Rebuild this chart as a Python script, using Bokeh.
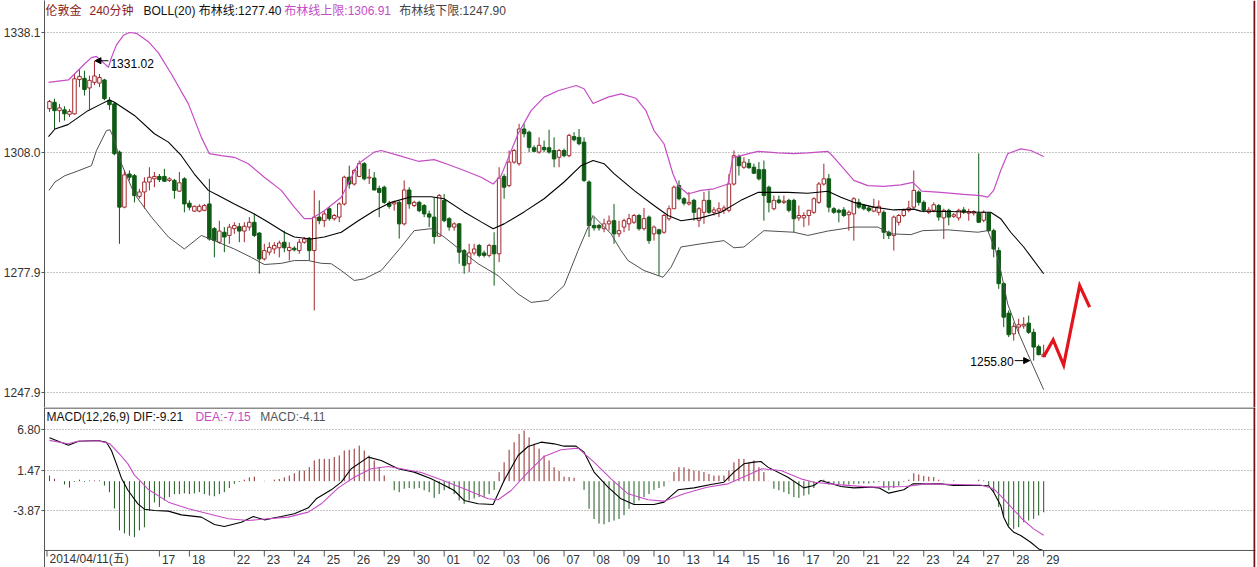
from bokeh.plotting import figure
from bokeh.layouts import column
from bokeh.models import Range1d, FixedTicker, PrintfTickFormatter, Span, Arrow, NormalHead, ColumnDataSource
from bokeh.core.properties import value
from bokeh.embed import file_html
from bokeh.resources import INLINE

# ---------------- data (240-minute London gold bars) ----------------
opens = [
    1319.0, 1320.6, 1318.5, 1318.7, 1317.6, 1317.7, 1326.3, 1326.6, 1324.2, 1325.6,
    1325.4, 1326.2, 1321.1, 1320.2, 1308.1, 1294.3, 1302.6, 1302.2, 1297.0, 1298.1,
    1300.6, 1301.4, 1302.0, 1302.0, 1301.0, 1301.0, 1298.3, 1301.4, 1295.3, 1293.3,
    1293.3, 1293.5, 1295.1, 1288.9, 1285.5, 1288.0, 1287.2, 1288.9, 1289.4, 1288.3,
    1289.3, 1290.5, 1287.8, 1281.3, 1283.0, 1283.8, 1284.1, 1285.5, 1283.4, 1284.0,
    1283.4, 1285.5, 1286.5, 1283.4, 1291.8, 1290.9, 1293.9, 1291.4, 1291.8, 1295.1,
    1301.8, 1300.1, 1302.0, 1305.2, 1301.6, 1301.6, 1299.0, 1299.3, 1295.3, 1295.1,
    1295.5, 1290.1, 1298.6, 1294.7, 1295.5, 1294.7, 1292.6, 1291.8, 1287.0, 1296.0,
    1291.4, 1289.3, 1290.1, 1283.4, 1280.1, 1282.8, 1284.7, 1282.8, 1282.2, 1284.7,
    1282.6, 1302.0, 1299.7, 1305.6, 1305.2, 1313.9, 1313.1, 1309.2, 1308.1, 1309.3,
    1309.2, 1308.5, 1306.8, 1308.5, 1307.2, 1312.0, 1311.8, 1310.6, 1300.6, 1289.7,
    1289.7, 1288.9, 1290.1, 1290.9, 1287.6, 1289.3, 1290.1, 1290.5, 1292.2, 1288.9,
    1291.8, 1287.6, 1288.6, 1288.0, 1291.4, 1293.9, 1299.7, 1296.4, 1295.1, 1296.0,
    1291.0, 1293.0, 1296.0, 1293.0, 1293.3, 1293.5, 1293.5, 1300.1, 1307.0, 1304.3,
    1305.3, 1304.3, 1303.7, 1303.7, 1299.3, 1293.9, 1296.1, 1295.5, 1296.0, 1296.0,
    1291.6, 1291.6, 1292.2, 1293.0, 1295.5, 1300.1, 1301.4, 1293.9, 1293.5, 1293.6,
    1292.4, 1292.6, 1295.5, 1294.7, 1294.1, 1293.3, 1293.0, 1293.0, 1288.0, 1287.2,
    1290.5, 1292.2, 1293.5, 1294.3, 1298.1, 1295.5, 1293.0, 1293.5, 1294.7, 1291.6,
    1293.5, 1292.0, 1291.6, 1293.6, 1292.8, 1292.8, 1292.8, 1291.0, 1292.8, 1288.4,
    1283.4, 1275.1, 1267.7, 1262.5, 1264.2, 1264.5, 1265.2, 1262.9, 1259.3, 1256.8,
]
highs = [
    1321.2, 1321.5, 1320.2, 1319.6, 1318.9, 1327.7, 1328.8, 1328.5, 1327.3, 1331.02,
    1327.7, 1326.5, 1321.9, 1320.6, 1308.5, 1303.5, 1303.5, 1302.6, 1298.9, 1301.8,
    1304.3, 1303.1, 1302.6, 1303.9, 1301.8, 1301.4, 1303.1, 1301.8, 1296.0, 1294.7,
    1295.0, 1295.1, 1301.4, 1289.3, 1290.9, 1289.3, 1290.1, 1290.5, 1290.3, 1290.5,
    1291.8, 1292.6, 1288.0, 1285.1, 1285.5, 1285.5, 1285.9, 1288.4, 1285.5, 1284.5,
    1286.3, 1286.8, 1286.8, 1298.5, 1296.0, 1293.5, 1294.3, 1292.6, 1295.5, 1302.2,
    1304.7, 1303.9, 1306.0, 1305.6, 1303.9, 1303.1, 1299.7, 1299.7, 1295.9, 1295.9,
    1295.9, 1301.0, 1299.3, 1295.9, 1295.9, 1295.1, 1293.4, 1296.8, 1297.6, 1297.6,
    1291.8, 1290.5, 1290.3, 1283.8, 1285.1, 1285.1, 1285.1, 1283.4, 1285.1, 1288.0,
    1304.3, 1302.6, 1308.5, 1308.9, 1315.2, 1315.2, 1313.5, 1309.8, 1311.8, 1311.0,
    1313.7, 1311.8, 1308.9, 1309.0, 1312.7, 1313.1, 1313.9, 1311.8, 1301.0, 1291.8,
    1290.1, 1291.4, 1292.2, 1295.1, 1290.9, 1291.4, 1292.6, 1292.6, 1292.6, 1294.1,
    1292.2, 1289.7, 1288.9, 1292.6, 1294.7, 1299.7, 1301.0, 1296.8, 1298.1, 1296.4,
    1294.3, 1298.1, 1298.5, 1294.3, 1295.5, 1294.7, 1302.6, 1308.5, 1307.5, 1306.8,
    1306.4, 1305.2, 1305.6, 1306.0, 1299.7, 1297.2, 1297.2, 1297.2, 1296.4, 1296.4,
    1294.7, 1293.0, 1293.6, 1296.8, 1300.6, 1305.2, 1302.6, 1294.3, 1293.9, 1294.3,
    1293.5, 1296.8, 1296.4, 1295.1, 1294.7, 1296.4, 1296.0, 1293.5, 1288.4, 1292.2,
    1292.6, 1293.9, 1295.9, 1303.5, 1298.5, 1296.0, 1294.3, 1295.5, 1295.1, 1293.9,
    1293.9, 1292.8, 1293.9, 1294.3, 1293.9, 1293.5, 1307.8, 1293.5, 1293.0, 1288.9,
    1284.2, 1275.5, 1268.4, 1265.4, 1266.3, 1266.7, 1267.1, 1263.8, 1259.8, 1259.8,
]
lows = [
    1318.2, 1313.9, 1315.6, 1316.0, 1316.9, 1317.5, 1324.4, 1322.3, 1318.8, 1324.9,
    1324.4, 1321.1, 1318.7, 1307.3, 1285.1, 1294.0, 1301.0, 1295.5, 1296.4, 1293.9,
    1298.5, 1299.3, 1300.6, 1300.6, 1300.6, 1296.4, 1298.1, 1293.0, 1293.5, 1293.1,
    1293.0, 1293.3, 1285.9, 1281.7, 1285.1, 1283.0, 1285.1, 1287.6, 1285.5, 1285.5,
    1288.4, 1286.8, 1277.6, 1280.9, 1282.2, 1282.6, 1281.7, 1283.0, 1280.9, 1283.2,
    1282.6, 1285.1, 1280.9, 1268.4, 1290.0, 1289.3, 1290.9, 1290.9, 1290.5, 1294.7,
    1298.9, 1299.7, 1301.8, 1301.0, 1300.1, 1298.5, 1291.8, 1295.1, 1293.9, 1293.4,
    1286.4, 1289.7, 1293.9, 1294.3, 1293.0, 1291.8, 1289.3, 1285.1, 1286.8, 1290.5,
    1288.4, 1288.4, 1280.1, 1277.6, 1278.0, 1282.2, 1281.7, 1281.7, 1281.7, 1274.6,
    1280.5, 1296.4, 1299.3, 1305.2, 1304.7, 1311.8, 1308.1, 1308.1, 1307.7, 1308.1,
    1307.7, 1304.3, 1304.3, 1306.8, 1306.8, 1310.8, 1309.8, 1300.6, 1286.8, 1288.4,
    1288.4, 1288.0, 1288.4, 1285.1, 1286.8, 1288.0, 1288.4, 1290.1, 1288.4, 1288.4,
    1285.1, 1285.9, 1277.1, 1287.6, 1290.9, 1293.9, 1296.0, 1294.7, 1294.7, 1290.9,
    1289.3, 1290.1, 1292.6, 1292.2, 1291.8, 1292.6, 1293.0, 1299.7, 1302.2, 1303.9,
    1303.9, 1302.6, 1301.0, 1290.9, 1293.0, 1293.5, 1295.1, 1295.1, 1293.0, 1288.0,
    1290.9, 1289.3, 1289.7, 1292.6, 1295.1, 1299.7, 1293.0, 1292.6, 1290.5, 1291.8,
    1288.4, 1285.9, 1293.9, 1293.5, 1293.0, 1293.0, 1292.2, 1286.3, 1286.3, 1283.4,
    1289.7, 1291.8, 1293.0, 1293.9, 1294.7, 1293.0, 1292.6, 1293.0, 1290.9, 1286.3,
    1289.7, 1291.6, 1290.9, 1292.6, 1290.9, 1292.2, 1290.3, 1290.5, 1288.0, 1281.7,
    1273.8, 1264.2, 1261.7, 1260.8, 1262.5, 1263.8, 1262.5, 1255.8, 1257.1, 1256.6,
]
closes = [
    1320.8, 1318.5, 1319.2, 1317.7, 1318.3, 1326.5, 1327.1, 1323.8, 1326.1, 1327.2,
    1326.8, 1321.5, 1320.0, 1307.7, 1294.3, 1302.4, 1301.8, 1297.2, 1298.1, 1300.6,
    1301.8, 1302.0, 1301.2, 1300.8, 1301.4, 1298.5, 1300.4, 1295.1, 1294.3, 1294.5,
    1294.5, 1294.7, 1286.3, 1285.9, 1288.3, 1286.8, 1289.3, 1289.7, 1288.3, 1289.5,
    1290.5, 1287.2, 1281.3, 1283.4, 1284.2, 1284.7, 1285.3, 1284.1, 1284.2, 1283.6,
    1285.5, 1286.3, 1283.4, 1291.8, 1290.9, 1292.6, 1291.4, 1292.2, 1295.1, 1301.8,
    1300.1, 1303.5, 1305.2, 1301.4, 1301.8, 1298.6, 1298.0, 1295.5, 1294.5, 1295.5,
    1290.1, 1298.6, 1295.1, 1295.5, 1293.4, 1292.6, 1291.8, 1286.9, 1297.2, 1290.9,
    1289.3, 1290.1, 1283.0, 1279.7, 1282.8, 1283.8, 1282.2, 1282.2, 1284.7, 1282.6,
    1301.6, 1299.3, 1305.6, 1308.5, 1313.9, 1312.7, 1309.3, 1308.3, 1309.8, 1308.7,
    1308.1, 1306.4, 1308.5, 1307.2, 1312.3, 1311.2, 1310.2, 1301.0, 1289.7, 1289.1,
    1289.1, 1290.1, 1290.8, 1287.6, 1288.4, 1290.9, 1291.4, 1292.2, 1288.9, 1291.4,
    1285.9, 1289.3, 1287.6, 1292.2, 1293.9, 1299.3, 1296.4, 1295.3, 1295.5, 1293.0,
    1293.9, 1296.0, 1293.0, 1293.6, 1293.9, 1294.1, 1300.1, 1307.2, 1304.7, 1305.6,
    1304.2, 1302.8, 1301.4, 1297.2, 1295.5, 1296.0, 1295.5, 1295.8, 1293.5, 1291.4,
    1292.2, 1292.2, 1293.5, 1296.4, 1300.1, 1301.4, 1294.3, 1293.0, 1293.0, 1292.2,
    1293.0, 1296.4, 1294.3, 1293.9, 1293.5, 1294.3, 1294.5, 1288.0, 1287.2, 1291.8,
    1292.2, 1293.5, 1294.1, 1298.5, 1295.5, 1293.5, 1293.6, 1294.9, 1291.8, 1293.5,
    1291.8, 1292.4, 1293.5, 1293.0, 1293.2, 1293.2, 1290.5, 1293.0, 1288.4, 1283.8,
    1275.1, 1266.7, 1262.3, 1264.4, 1264.8, 1264.9, 1262.9, 1259.2, 1257.3, 1257.4,
]

# Bollinger(20) bands, read as polyline vertices (bar index, price)
upper_i = [-0.2, 3.8, 5, 7, 8.4, 9.4, 11, 11.8, 12.4, 13.4, 14.8, 16, 17.4, 19.8, 21.8, 24.4, 27.8, 30.4, 32, 34.4,
           37, 39.8, 43, 46.4, 49, 51, 52.4, 55, 58.4, 61.8, 65, 66.4, 69.8, 73.8, 77, 79.8, 83, 86.4, 88.8, 90.4,
           93.8, 96.4, 99, 101.8, 105.4, 107, 108.8, 111.8, 114.4, 117.4, 119.4, 121, 123, 124.8, 125.8, 127.8, 130.4, 133, 135.8, 136.8,
           138.4, 141.8, 145.8, 149, 151.8, 155.8, 157, 161, 163.8, 167, 170.4, 172.8, 174.6, 178.4, 183, 186.4, 187.8, 189, 190.4, 191.8,
           194.4, 196.4, 199]
upper_v = [1325.6, 1326.2, 1327.7, 1330.2, 1331.8, 1332.1, 1330.3, 1329.4, 1331.8, 1335.0, 1337.4, 1338.1, 1337.9, 1335.8, 1333.0, 1327.7, 1320.2, 1311.8, 1307.7, 1307.2,
           1306.8, 1305.2, 1301.8, 1298.5, 1294.3, 1291.4, 1291.4, 1293.4, 1296.8, 1305.2, 1308.1, 1308.5, 1307.3, 1305.8, 1306.2, 1305.0, 1303.5, 1301.8, 1300.1, 1302.2,
           1312.7, 1318.5, 1321.9, 1323.5, 1324.8, 1324.0, 1320.3, 1321.9, 1322.7, 1321.6, 1318.5, 1313.5, 1310.2, 1302.6, 1299.7, 1297.6, 1298.5, 1298.9, 1300.1, 1306.8,
           1307.2, 1308.3, 1307.9, 1307.7, 1307.9, 1308.3, 1306.8, 1301.0, 1299.7, 1299.5, 1299.9, 1300.5, 1298.3, 1298.0, 1297.5, 1297.2, 1296.8, 1298.5, 1303.5, 1307.7,
           1308.9, 1308.5, 1307.0]
mid_i = [-0.2, 1.1, 3.7, 7.7, 10.4, 12, 13, 17, 21, 23.8, 26.4, 29, 31.8, 33.8, 37, 41, 43.8, 47, 49, 52.4,
         55, 58.4, 61.8, 65, 68.4, 72.4, 76.4, 79, 83, 86.4, 88.8, 91, 95, 99, 103, 106.4, 108.8, 111, 113, 117,
         121, 123.8, 126.4, 130.4, 134.4, 138.4, 141.8, 147.8, 151.8, 155.8, 158.4, 161, 165, 169, 173, 174.4, 179.8, 186.4, 188.4, 190.4,
         192.4, 195, 199]
mid_v = [1312.0, 1313.9, 1315.0, 1318.5, 1320.2, 1321.2, 1320.6, 1317.3, 1312.7, 1310.6, 1307.2, 1302.6, 1298.5, 1297.2, 1295.1, 1292.6, 1290.5, 1288.0, 1286.8, 1286.3,
         1286.8, 1288.0, 1290.9, 1293.4, 1295.5, 1296.9, 1296.9, 1296.4, 1293.1, 1290.6, 1288.9, 1290.1, 1293.1, 1296.4, 1300.6, 1304.7, 1306.0, 1305.2, 1302.7, 1298.5,
         1294.7, 1292.2, 1290.9, 1291.6, 1293.0, 1296.0, 1298.0, 1298.0, 1297.8, 1298.3, 1296.8, 1295.5, 1294.3, 1293.6, 1293.8, 1293.3, 1293.2, 1293.0, 1293.0, 1291.4,
         1288.0, 1284.3, 1277.6]
lower_i = [-0.1, 1.1, 3.1, 5.1, 8.4, 9.4, 11.4, 12.1, 12.8, 14.4, 17, 20.4, 23.8, 27, 30.4, 33, 37, 40.4, 43, 46.4,
           49, 51.8, 54.4, 56.4, 58.4, 61, 63, 66.4, 70.4, 73, 76.4, 79, 82.4, 85.8, 89.8, 93.8, 96.4, 99.8, 103, 105.8,
           108.8, 112.4, 114.4, 115.8, 119, 122.8, 124.4, 126.4, 130.4, 135, 137, 139, 143, 149, 151.8, 155.8, 161, 165.8, 168.4, 172.4,
           174.8, 179.8, 185.8, 187.8, 189.4, 190.4, 191.8, 193.8, 195.8, 199]
lower_v = [1298.5, 1300.6, 1302.2, 1303.1, 1304.7, 1308.5, 1313.5, 1313.7, 1311.8, 1305.2, 1297.6, 1291.8, 1286.8, 1283.8, 1287.2, 1285.9, 1283.8, 1281.7, 1279.9, 1280.2,
           1280.9, 1280.9, 1280.2, 1280.1, 1278.4, 1275.9, 1276.3, 1278.4, 1284.3, 1288.4, 1288.9, 1286.8, 1283.4, 1280.1, 1277.1, 1272.5, 1270.4, 1270.9, 1274.6, 1283.4,
           1292.2, 1287.6, 1283.4, 1280.9, 1278.4, 1276.7, 1279.2, 1284.3, 1285.1, 1285.9, 1284.1, 1284.3, 1288.4, 1288.0, 1287.2, 1288.3, 1289.3, 1289.3, 1287.6, 1287.4,
           1288.4, 1288.6, 1288.0, 1288.4, 1283.4, 1278.4, 1270.0, 1263.3, 1257.5, 1248.5]

# hand-drawn forecast zigzag (bar index, price)
forecast_i = [199, 200.9, 203.0, 206.2, 208.2]
forecast_v = [1256.8, 1261.0, 1254.7, 1274.6, 1269.2]

# MACD(12,26,9)
dif_i = [0, 3.8, 5.8, 9.7, 11.4, 12.4, 13.4, 14.4, 15.7, 17.7, 19, 21, 23.8, 26.4, 30.4, 33, 35, 38.4, 40.8, 43,
         46.4, 49, 51.8, 53.4, 56.4, 58.4, 60.4, 63.8, 66.4, 69.8, 73, 76.4, 79.8, 81, 83, 85.8, 88.8, 91, 93.8, 95.8,
         98.4, 101, 103, 105.4, 107, 109, 111.8, 114.4, 117, 121, 123, 125.8, 129, 132.4, 135, 137, 139, 141, 142.4, 143.8,
         147.8, 151, 153, 154.4, 158.4, 161, 164.4, 166, 168, 171, 172.8, 178.4, 181, 186.4, 188, 189, 190.4, 191, 192, 193,
         194.4, 196.4, 198, 199]
dif_v = [5.73, 4.75, 5.29, 5.38, 5.16, 4.05, 2.29, 0.4, -1.2, -3.0, -3.7, -3.87, -3.96, -4.45, -4.75, -5.72, -5.99, -5.42, -4.67, -5.11,
         -4.67, -4.31, -3.52, -2.33, -1.14, -0.13, 1.64, 3.18, 2.74, 1.64, 1.20, 0.31, -0.79, -1.23, -2.55, -2.99, -3.08, 0.09, 3.40, 4.59,
         5.16, 4.94, 4.63, 4.63, 3.84, 1.20, -0.79, -2.33, -3.08, -3.08, -2.77, -1.14, -0.88, -0.44, -0.13, 1.20, 2.30, 2.52, 2.60, 1.86,
         0.53, -0.88, -0.57, 0.09, -0.7, -0.88, -0.79, -0.88, -1.58, -1.14, -0.35, -0.35, -0.57, -0.57, -0.6, -1.45, -3.2, -4.76, -6.08, -6.74,
         -7.18, -8.07, -8.95, -9.21]
dea_i = [0, 3.7, 5.7, 9.7, 12.1, 14.4, 15.7, 17, 18.4, 19.8, 23.8, 27.8, 31.8, 35.8, 39.8, 43.8, 47.8, 51.8, 54.4, 57.8,
         61, 64.4, 67.8, 70.4, 74.4, 78.4, 83, 87.8, 89.8, 92.4, 95.8, 99, 102.4, 105.8, 109, 112.4, 115.8, 119.8, 123, 127,
         131.6, 135.8, 139.6, 142.6, 146.4, 150.4, 153, 157.8, 164.4, 171.4, 175.4, 186.4, 189, 191, 193, 195, 197, 199]
dea_v = [5.4, 4.95, 5.29, 5.35, 4.94, 3.3, 2.29, 0.8, -0.13, -1.1, -2.77, -3.65, -4.31, -4.97, -5.20, -4.97, -4.75, -4.09, -2.99, -0.88,
         0.53, 1.64, 1.94, 1.64, 1.15, 0.18, -1.01, -2.33, -2.46, -1.23, 1.20, 3.27, 4.15, 4.37, 2.52, 0.31, -1.67, -2.46, -2.64, -1.67,
         -0.79, -0.35, 0.75, 1.64, 1.42, 0.31, -0.13, -0.45, -0.79, -0.70, -0.35, -0.5, -1.01, -2.34, -3.79, -5.20, -6.30, -7.15]
macd_hist = [
    0.75, 0.31, 0.0, -0.44, -0.85, -0.1, 0.2, -0.1, 0.1, 0.1,
    0.1, -0.57, -1.45, -3.6, -6.5, -6.9, -7.2, -7.4, -6.5, -6.1,
    -3.9, -2.8, -3.4, -2.55, -2.1, -1.7, -1.7, -1.6, -1.7, -1.6,
    -1.45, -1.7, -1.9, -2.0, -1.7, -1.45, -0.9, -0.35, -0.1, 0.2,
    0.5, 0.6, 0.0, 0.05, 0.0, 0.2, 0.3, 0.5, 0.75, 1.05,
    1.4, 1.4, 1.85, 2.75, 2.95, 2.95, 2.95, 3.2, 3.4, 4.05,
    4.15, 4.3, 4.7, 4.05, 3.4, 2.75, 1.85, 0.75, 0.0, -1.2,
    -1.45, -1.0, -0.9, -1.0, -0.9, -1.2, -1.45, -2.2, -1.7, -1.2,
    -1.0, -1.7, -2.55, -3.0, -2.55, -2.3, -2.1, -2.1, -1.7, -1.15,
    1.2, 2.5, 4.15, 5.15, 6.25, 6.7, 5.8, 4.95, 4.3, 3.4,
    2.75, 1.85, 1.35, 0.6, 0.55, 0.45, 0.0, -1.15, -3.65, -5.0,
    -5.6, -5.7, -5.4, -5.2, -5.0, -4.5, -3.65, -3.0, -2.55, -2.1,
    -1.7, -1.15, -0.9, -0.7, 0.05, 1.2, 1.85, 1.85, 1.65, 1.4,
    1.35, 1.2, 0.95, 0.75, 0.75, 0.75, 1.4, 2.5, 2.95, 2.95,
    2.5, 2.75, 1.85, 1.2, 0.05, -1.0, -1.2, -1.45, -1.7, -2.1,
    -2.2, -1.9, -1.75, -0.9, 0.05, 0.2, -0.45, -0.45, -0.45, -0.45,
    -0.45, -0.35, -0.35, -0.3, -0.3, -0.2, -0.1, -0.9, -1.2, -0.9,
    -0.6, -0.1, 0.2, 1.05, 0.9, 0.7, 0.6, 0.55, 0.2, 0.05,
    0.0, 0.1, 0.0, 0.0, 0.0, 0.0, 0.2, 0.1, -0.57, -1.45,
    -3.43, -4.76, -5.86, -6.3, -6.08, -5.42, -5.2, -4.98, -4.54, -4.11,
]

price_ticks = [1247.9, 1277.9, 1308.0, 1338.1]
macd_ticks = [-3.87, 1.47, 6.80]
date_pos = [-0.5, 22, 28, 37, 43, 49, 55, 61, 67, 73, 79, 85, 91, 97, 103, 109, 115, 121, 127, 133,
            139, 145, 151, 157, 163, 169, 175, 181, 187, 193, 199]
date_labels = ["2014/04/11(五)", "17", "18", "22", "23", "24", "25", "26", "29", "30", "01", "02", "03", "06", "07",
               "08", "09", "10", "13", "14", "15", "16", "17", "20", "21", "22", "23", "24", "27", "28", "29"]

title_texts = ["伦敦金", "240分钟", "BOLL(20) 布林线:1277.40", "布林线上限:1306.91", "布林线下限:1247.90"]
macd_texts = ["MACD(12,26,9) DIF:-9.21", "DEA:-7.15", "MACD:-4.11"]

# ---------------- styling ----------------
FONT = "Liberation Sans, Noto Sans CJK SC"
RED_C = "#A3272C"
GREEN_C = "#0E5A14"
MAG = "#C64CC6"
LOWER_C = "#505050"
HIST_R = "#8E2A2A"
HIST_G = "#1E5A1E"
FC = "#E3141B"
EDGE = "#7A1010"
GRID = "#8a8a8a"
AXIS = "#555555"
LABEL = "#333333"

N = len(closes)
idx = list(range(N))
x_range = Range1d(-1.0, 241.4)   # 5 px per bar, frame from x=43 to x=1255


def style_common(p, ticks, fmt):
    p.outline_line_color = None
    p.background_fill_color = "white"
    p.border_fill_color = "white"
    p.xgrid.visible = False
    p.ygrid.ticker = FixedTicker(ticks=ticks)
    p.ygrid.grid_line_color = GRID
    p.ygrid.grid_line_dash = "1 2"
    ax = p.yaxis[0]
    ax.ticker = FixedTicker(ticks=ticks)
    ax.formatter = PrintfTickFormatter(format=fmt)
    ax.axis_line_color = AXIS
    ax.major_tick_line_color = AXIS
    ax.major_tick_out = 3
    ax.major_tick_in = 0
    ax.minor_tick_line_color = None
    ax.major_label_standoff = 1
    ax.major_label_text_font = FONT
    ax.major_label_text_font_size = "12px"
    ax.major_label_text_color = LABEL


# ---------------- price panel ----------------
p1 = figure(width=1257, height=407, x_range=x_range, y_range=Range1d(1244.04, 1346.13),
            output_backend="svg", toolbar_location=None, x_axis_location=None,
            min_border_left=43, min_border_right=2, min_border_top=0, min_border_bottom=0)
style_common(p1, price_ticks, "%.1f")

up = [i for i in idx if closes[i] >= opens[i]]
dn = [i for i in idx if closes[i] < opens[i]]


def candle_source(ids):
    return ColumnDataSource(dict(
        x=ids,
        h=[highs[i] for i in ids],
        l=[lows[i] for i in ids],
        top=[max(opens[i], closes[i]) for i in ids],
        bot=[min(opens[i], closes[i]) for i in ids],
    ))


su, sd = candle_source(up), candle_source(dn)
p1.segment(x0="x", y0="l", x1="x", y1="h", source=su, line_color=RED_C, line_width=1)
p1.vbar(x="x", width=0.7, top="top", bottom="bot", source=su, fill_color="white", line_color=RED_C, line_width=1)
p1.segment(x0="x", y0="l", x1="x", y1="h", source=sd, line_color=GREEN_C, line_width=1)
p1.vbar(x="x", width=0.7, top="top", bottom="bot", source=sd, fill_color=GREEN_C, line_color=GREEN_C, line_width=1)

p1.line(upper_i, upper_v, line_color=MAG, line_width=1.2)
p1.line(mid_i, mid_v, line_color="black", line_width=1.1)
p1.line(lower_i, lower_v, line_color=LOWER_C, line_width=1)
p1.line(forecast_i, forecast_v, line_color=FC, line_width=3.2, line_join="miter")

pk = highs.index(max(highs))
tr = lows.index(min(lows))
p1.add_layout(Arrow(end=NormalHead(size=6, fill_color="black", line_color="black"),
                    x_start=pk + 2.8, y_start=highs[pk], x_end=pk + 0.1, y_end=highs[pk],
                    line_color="black", line_width=1))
p1.text(x=[pk + 3.2], y=[highs[pk] - 0.6], text=[f"{max(highs):.2f}"], text_font=value(FONT),
        text_font_size="12px", text_color="black", text_align="left", text_baseline="middle")
p1.add_layout(Arrow(end=NormalHead(size=6, fill_color="black", line_color="black"),
                    x_start=tr - 3.8, y_start=lows[tr], x_end=tr - 0.8, y_end=lows[tr],
                    line_color="black", line_width=1))
p1.text(x=[tr - 4.0], y=[lows[tr] - 0.2], text=[f"{min(lows):.2f}"], text_font=value(FONT),
        text_font_size="12px", text_color="black", text_align="right", text_baseline="middle")

title_x = [(px - 48) / 5.0 for px in (44, 88, 142, 283, 398)]
p1.text(x=title_x, y=[1343.62] * len(title_texts), text=title_texts,
        text_color=["#8B1A1A", "#8B1A1A", "#111111", MAG, "#444444"],
        text_font=value(FONT), text_font_size="12px", text_align="left", text_baseline="middle")

p1.add_layout(Span(location=241.2, dimension="height", line_color=EDGE, line_width=2))

# ---------------- MACD panel ----------------
p2 = figure(width=1257, height=160, x_range=x_range, y_range=Range1d(-11.41, 9.743),
            output_backend="svg", toolbar_location=None, x_axis_location=None,
            min_border_left=43, min_border_right=2, min_border_top=0, min_border_bottom=0)
style_common(p2, macd_ticks, "%.2f")

hp = [i for i in idx if macd_hist[i] > 0]
hn = [i for i in idx if macd_hist[i] < 0]
p2.segment(x0=hp, y0=[0] * len(hp), x1=hp, y1=[macd_hist[i] for i in hp], line_color=HIST_R, line_width=1)
p2.segment(x0=hn, y0=[0] * len(hn), x1=hn, y1=[macd_hist[i] for i in hn], line_color=HIST_G, line_width=1)
p2.line(dif_i, dif_v, line_color="black", line_width=1.1)
p2.line(dea_i, dea_v, line_color=MAG, line_width=1.1)

p2.text(x=[(px - 48) / 5.0 for px in (45, 194, 259)], y=[8.46] * 3, text=macd_texts,
        text_color=["#111111", MAG, "#555555"], text_font=value(FONT), text_font_size="12px",
        text_align="left", text_baseline="middle")

# panel separator, bottom axis line, right edge
p2.add_layout(Span(location=9.68, dimension="width", line_color="#666666", line_width=1.5))
axis_y = -9.16
p2.add_layout(Span(location=axis_y, dimension="width", line_color=AXIS, line_width=1))
p2.add_layout(Span(location=241.2, dimension="height", line_color=EDGE, line_width=2))

# date axis: ticks below the axis line and labels to their right
tick_bottom = -9.96
p2.segment(x0=date_pos, y0=[axis_y] * len(date_pos), x1=date_pos, y1=[tick_bottom] * len(date_pos),
           line_color=AXIS, line_width=1)
p2.text(x=[d + 0.5 for d in date_pos], y=[-10.3] * len(date_pos), text=date_labels,
        text_font=value(FONT), text_font_size="12px", text_color=LABEL,
        text_align="left", text_baseline="middle")

layout = column(p1, p2, spacing=0)
open("out.html", "w").write(file_html(layout, INLINE))
